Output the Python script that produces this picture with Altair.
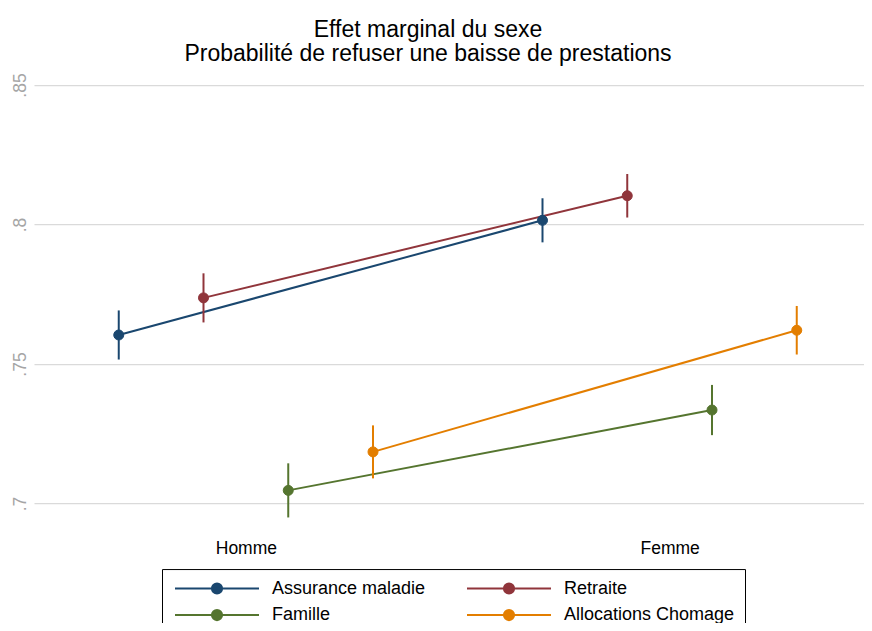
import altair as alt
import pandas as pd

# ---- data ----
series = ["Assurance maladie", "Retraite", "Famille", "Allocations Chomage"]
sexes = ["Homme", "Femme"]
est_homme = [0.7604, 0.7737, 0.7047, 0.7185]
est_femme = [0.8015, 0.8103, 0.7335, 0.7621]
half_ci_homme = [0.0088, 0.0088, 0.0097, 0.0095]
half_ci_femme = [0.0079, 0.0078, 0.0090, 0.0087]
colors = ["#1a476f", "#90353b", "#55752f", "#e37e00"]
y_ticks = [0.7, 0.75, 0.8, 0.85]

# dodge step between series within a category
dodge = 0.2

rows = []
for si, s in enumerate(series):
    for ci, (sx, est, half) in enumerate(
        [("Homme", est_homme[si], half_ci_homme[si]), ("Femme", est_femme[si], half_ci_femme[si])]
    ):
        rows.append({
            "serie": s,
            "sexe": sx,
            "xpos": (ci + 1) + (si - 1.5) * dodge,
            "est": est,
            "lo": est - half,
            "hi": est + half,
        })
df = pd.DataFrame(rows)

FONT = "Liberation Sans"

color_scale = alt.Scale(domain=series, range=colors)
x_scale = alt.Scale(domain=[0.5, 2.4587], nice=False, zero=False)
y_scale = alt.Scale(domain=[0.69, 0.855], nice=False, zero=False)

legend_path = "M-1,0L13,0M5.15,0A0.85,0.85,0,1,1,6.85,0A0.85,0.85,0,1,1,5.15,0Z"

legend = alt.Legend(
    title=None,
    orient="none",
    legendX=128,
    legendY=498,
    direction="horizontal",
    columns=2,
    symbolType=legend_path,
    symbolSize=144,
    symbolStrokeWidth=2,
    symbolOpacity=1,
    labelFont=FONT,
    labelFontSize=18,
    labelColor="#000000",
    labelOffset=82,
    columnPadding=37,
    rowPadding=7,
    padding=10,
    strokeColor="#000000",
    fillColor="#ffffff",
    labelLimit=400,
)

x_axis = alt.Axis(
    values=[1, 2],
    labelExpr=f"['{sexes[0]}','{sexes[1]}'][datum.value-1]",
    domain=False, ticks=False, grid=False, title=None,
    labelFont=FONT, labelFontSize=17.5, labelColor="#000000",
    labelPadding=8,
)
y_axis = alt.Axis(
    values=y_ticks,
    labelExpr="substring(format(datum.value, '.2~f'), 1)",
    domain=False, ticks=False, grid=True, gridColor="#dadada", gridWidth=1.3,
    title=None, labelAngle=270, labelAlign="center", labelBaseline="bottom",
    labelFont=FONT, labelFontSize=17.5, labelColor="#a5a5a5", labelPadding=5,
)

color_enc = alt.Color("serie:N", scale=color_scale, sort=series, legend=legend)

base = alt.Chart(df)

lines = base.mark_line(strokeWidth=2).encode(
    x=alt.X("xpos:Q", scale=x_scale, axis=x_axis),
    y=alt.Y("est:Q", scale=y_scale, axis=y_axis),
    detail="serie:N",
    color=color_enc,
)

bars = base.mark_rule(strokeWidth=2).encode(
    x=alt.X("xpos:Q", scale=x_scale, axis=x_axis),
    y=alt.Y("lo:Q", scale=y_scale, axis=y_axis),
    y2="hi:Q",
    color=color_enc,
)

points = base.mark_point(filled=True, size=100, opacity=1, strokeWidth=1).encode(
    x=alt.X("xpos:Q", scale=x_scale, axis=x_axis),
    y=alt.Y("est:Q", scale=y_scale, axis=y_axis),
    color=color_enc,
    stroke=alt.Stroke("serie:N", scale=color_scale, sort=series, legend=legend),
)

chart = (
    alt.layer(lines, bars, points)
    .properties(
        width=830,
        height=460.35,
        autosize=alt.AutoSizeParams(type="none"),
        padding={"left": 26, "top": 63.05, "right": 0, "bottom": 91.6},
        view=alt.ViewBackground(stroke=None, strokeWidth=0),
        title=alt.TitleParams(
            ["Effet marginal du sexe", "Probabilité de refuser une baisse de prestations"],
            font=FONT, fontSize=23, fontWeight="normal", color="#000000",
            anchor="middle", frame="group", dx=-21, lineHeight=24.5, offset=5,
        ),
    )
    .configure_view(stroke=None, strokeWidth=0)
    .configure_axis(domain=False, ticks=False)
    .configure_axisX(domain=False, grid=False)
    .configure_axisY(domain=False)
    .configure(background="#ffffff")
)

chart.save("out.html", embed_options={"renderer": "svg", "actions": False})
